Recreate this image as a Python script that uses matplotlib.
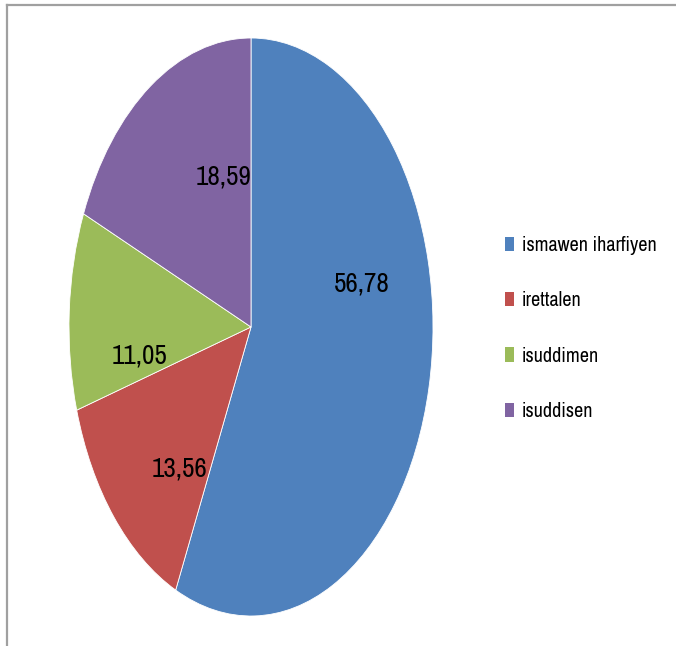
import matplotlib
matplotlib.use("Agg")
import matplotlib.pyplot as plt
from matplotlib.lines import Line2D
from matplotlib import font_manager as fm

categories = ["ismawen iharfiyen", "irettalen", "isuddimen", "isuddisen"]
values = [56.78, 13.56, 11.05, 18.59]
colors = ["#4F81BD", "#C0504D", "#9BBB59", "#8064A2"]
# label positions in normalized pie coords (layout)
label_pos = [(0.61, 0.15), (-0.39, -0.49), (-0.61, -0.10), (-0.15, 0.52)]

# pick a narrow font if available
cands = []
for f in fm.fontManager.ttflist:
    nm = f.name
    fn = f.fname.lower()
    if f.weight not in (400, "normal", "regular") or f.style != "normal":
        continue
    score = None
    if "narrow" in nm.lower() or "narrow" in fn:
        score = 0
    elif "condensed" in nm.lower() or "condensed" in fn:
        score = 1
    if score is not None and "bold" not in fn and "oblique" not in fn and "italic" not in fn:
        cands.append((score, f.fname, nm))
cands.sort()
if cands:
    fp_path = cands[0][1]
    FP = lambda size: fm.FontProperties(fname=fp_path, size=size)
else:
    FP = lambda size: fm.FontProperties(family="DejaVu Sans", size=size * 0.8)

W, H = 676, 646
fig = plt.figure(figsize=(W / 100, H / 100), dpi=100)
fig.patch.set_facecolor("white")

cx, cy, rx, ry = 251, 327, 182, 289
ax = fig.add_axes([(cx - rx) / W, (H - cy - ry) / H, 2 * rx / W, 2 * ry / H])
wedges, _ = ax.pie(values, colors=colors, startangle=90, counterclock=False,
                   radius=1, center=(0, 0),
                   wedgeprops=dict(edgecolor="white", linewidth=0.6))
ax.set_aspect("auto")
ax.set_xlim(-1, 1)
ax.set_ylim(-1, 1)
ax.axis("off")

for v, (x, y) in zip(values, label_pos):
    ax.text(x, y, f"{v:.2f}".replace(".", ","), ha="center", va="center",
            fontproperties=FP(19.5), color="black")

leg = fig.legend(wedges, categories, loc="upper left",
                 bbox_to_anchor=(505 / W, 1 - 236 / H),
                 frameon=False, prop=FP(14.5), handlelength=0.45,
                 handleheight=0.72, handletextpad=0.4, labelspacing=1.8,
                 borderpad=0, borderaxespad=0)
for h in leg.legend_handles:
    h.set_edgecolor("none")

# outer frame (top and left)
fig.add_artist(Line2D([7 / W, 1], [1 - 5 / H, 1 - 5 / H], transform=fig.transFigure,
                      color="#a0a0a0", linewidth=1.6))
fig.add_artist(Line2D([7 / W, 7 / W], [0, 1 - 5 / H], transform=fig.transFigure,
                      color="#a0a0a0", linewidth=1.6))

fig.savefig("out.png", dpi=100, facecolor="white")
